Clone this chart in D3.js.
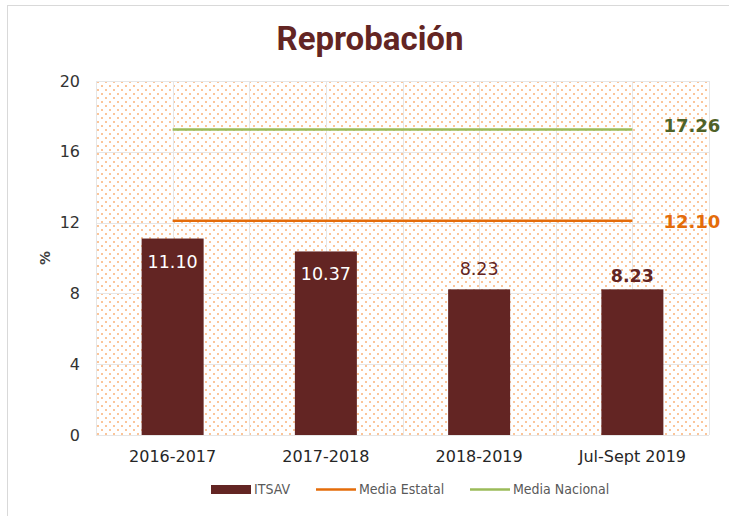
<!DOCTYPE html>
<html>
<head>
<meta charset="utf-8">
<style>
  body { margin: 0; background: #fff; }
  svg { display: block; }
</style>
</head>
<body>
<div class="chart"></div>
<script src="https://d3js.org/d3.v7.min.js"></script>
<script>
  // datos
  const categories = ['2016-2017', '2017-2018', '2018-2019', 'Jul-Sept 2019']
  const itsav = [11.10, 10.37, 8.23, 8.23]
  const mediaEstatal = [12.10, 12.10, 12.10, 12.10]
  const mediaNacional = [17.26, 17.26, 17.26, 17.26]
  const yTicks = [0, 4, 8, 12, 16, 20]

  const width = 729, height = 516
  const plot = { left: 96, right: 709, top: 81, bottom: 435 }
  const barColor = '#632523'
  const font = 'DejaVu Sans, Verdana, sans-serif'

  const svg = d3.select('.chart').append('svg')
                .attr('width', width)
                .attr('height', height)

  // patrón de puntos
  const defs = svg.append('defs')
  const pat = defs.append('pattern')
                  .attr('id', 'dots')
                  .attr('width', 8).attr('height', 8)
                  .attr('patternUnits', 'userSpaceOnUse')
  pat.append('rect').attr('width', 8).attr('height', 8).attr('fill', '#fff')
  ;[[1, 1], [5, 5]].forEach(p => {
    pat.append('rect').attr('x', p[0]).attr('y', p[1]).attr('width', 2).attr('height', 2)
       .attr('fill', '#fbc59a').attr('shape-rendering', 'crispEdges')
  })

  // borde del gráfico
  svg.append('rect')
     .attr('x', 7.5).attr('y', 5.5)
     .attr('width', 740).attr('height', 520)
     .attr('fill', 'none')
     .attr('stroke', '#d9d9d9')

  const x = d3.scaleBand()
              .domain(categories)
              .range([plot.left, plot.right])
  const y = d3.scaleLinear()
              .domain([0, 20])
              .range([plot.bottom, plot.top])

  svg.append('rect')
     .attr('x', plot.left).attr('y', plot.top)
     .attr('width', plot.right - plot.left)
     .attr('height', plot.bottom - plot.top)
     .attr('fill', 'url(#dots)')

  // rejilla
  const grid = svg.append('g').attr('stroke', '#e6e6e6').attr('stroke-width', 1)
  grid.selectAll('line.h')
      .data(yTicks)
      .join('line')
      .attr('class', 'h')
      .attr('x1', plot.left).attr('x2', plot.right)
      .attr('y1', d => Math.round(y(d)) + 0.5).attr('y2', d => Math.round(y(d)) + 0.5)
  const vx = []
  categories.forEach(c => { vx.push(x(c)); vx.push(x(c) + x.bandwidth() / 2) })
  vx.push(plot.right)
  grid.selectAll('line.v')
      .data(vx)
      .join('line')
      .attr('class', 'v')
      .attr('x1', d => Math.round(d) + 0.5).attr('x2', d => Math.round(d) + 0.5)
      .attr('y1', plot.top).attr('y2', plot.bottom)

  // ejes
  const yAxis = d3.axisLeft(y).tickValues(yTicks).tickSize(0).tickPadding(16)
  svg.append('g')
     .attr('transform', `translate(${plot.left},0)`)
     .call(yAxis)
     .call(g => g.select('.domain').remove())
     .selectAll('text')
     .attr('font-family', font)
     .attr('font-size', 16)
     .attr('fill', '#333')

  const xAxis = d3.axisBottom(x).tickSize(0).tickPadding(16)
  svg.append('g')
     .attr('transform', `translate(0,${plot.bottom})`)
     .call(xAxis)
     .call(g => g.select('.domain').remove())
     .selectAll('text')
     .attr('font-family', font)
     .attr('font-size', 16)
     .attr('fill', '#262626')

  svg.append('text')
     .attr('transform', `translate(50,${(plot.top + plot.bottom) / 2}) rotate(-90)`)
     .attr('text-anchor', 'middle')
     .attr('font-family', font)
     .attr('font-weight', 'bold')
     .attr('font-size', 14)
     .attr('fill', '#404040')
     .text('%')

  // barras
  const barW = 62
  svg.selectAll('rect.bar')
     .data(itsav)
     .join('rect')
     .attr('class', 'bar')
     .attr('x', (d, i) => x(categories[i]) + x.bandwidth() / 2 - barW / 2)
     .attr('y', d => y(d))
     .attr('width', barW)
     .attr('height', d => plot.bottom - y(d))
     .attr('fill', barColor)

  // etiquetas de barras
  const lblOffset = [29, 29, -14, -7]
  svg.selectAll('text.lbl')
     .data(itsav)
     .join('text')
     .attr('class', 'lbl')
     .attr('x', (d, i) => x(categories[i]) + x.bandwidth() / 2)
     .attr('y', (d, i) => y(d) + lblOffset[i])
     .attr('text-anchor', 'middle')
     .attr('font-family', font)
     .attr('font-size', 17.5)
     .attr('font-weight', (d, i) => i === 3 ? 'bold' : 'normal')
     .attr('fill', (d, i) => i < 2 ? '#fff' : barColor)
     .text(d => d.toFixed(2))

  // líneas de medias
  const cx = i => x(categories[i]) + x.bandwidth() / 2
  const line = d3.line().x((d, i) => cx(i)).y(d => y(d))
  const series = [
    { vals: mediaNacional, color: '#9bbb59', labelColor: '#4f6228', dy: 3 },
    { vals: mediaEstatal, color: '#e46c0a', labelColor: '#e46c0a', dy: 7 }
  ]
  series.forEach(s => {
    svg.append('path')
       .datum(s.vals)
       .attr('d', line)
       .attr('fill', 'none')
       .attr('stroke', s.color)
       .attr('stroke-width', 2.5)
    svg.append('text')
       .attr('x', cx(3) + 31)
       .attr('y', y(s.vals[3]) + s.dy)
       .attr('font-family', font)
       .attr('font-size', 18)
       .attr('font-weight', 'bold')
       .attr('fill', s.labelColor)
       .text(s.vals[3].toFixed(2))
  })

  // título
  svg.append('text')
     .attr('x', 370).attr('y', 50)
     .attr('text-anchor', 'middle')
     .attr('font-family', 'Roboto, sans-serif')
     .attr('font-weight', 'bold')
     .attr('font-size', 33)
     .attr('fill', barColor)
     .text('Reprobación')

  // leyenda
  const legend = [
    { name: 'ITSAV', type: 'rect', color: barColor, x: 211 },
    { name: 'Media Estatal', type: 'line', color: '#e46c0a', x: 316 },
    { name: 'Media Nacional', type: 'line', color: '#9bbb59', x: 470 }
  ]
  const lg = svg.append('g').attr('transform', 'translate(0,489)')
  legend.forEach(l => {
    if (l.type === 'rect') {
      lg.append('rect').attr('x', l.x).attr('y', -4).attr('width', 40).attr('height', 9).attr('fill', l.color)
    } else {
      lg.append('line').attr('x1', l.x).attr('x2', l.x + 40).attr('y1', 0.5).attr('y2', 0.5)
        .attr('stroke', l.color).attr('stroke-width', 2.5)
    }
    lg.append('text')
      .attr('x', l.x + 43).attr('y', 5)
      .attr('font-family', 'DejaVu Sans Condensed, DejaVu Sans, sans-serif')
      .attr('font-size', 14)
      .attr('fill', '#595959')
      .text(l.name)
  })
</script>
</body>
</html>
